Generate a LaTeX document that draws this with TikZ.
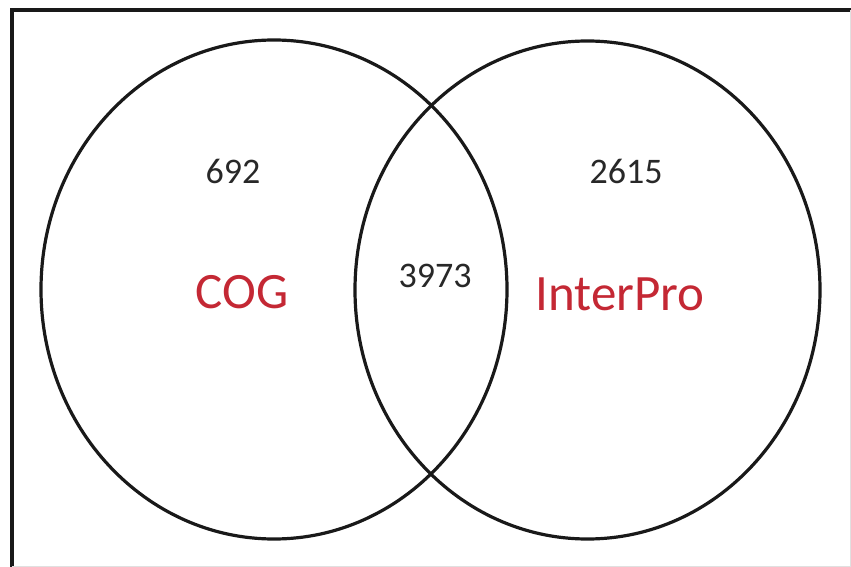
\documentclass[tikz,border=0pt]{standalone}
\usepackage{fontspec}
\setmainfont{Carlito}
\definecolor{labred}{RGB}{196,40,52}
\definecolor{numgray}{RGB}{40,40,40}
\begin{document}
\begin{tikzpicture}[x=1pt,y=-1pt,
  venn/.style={draw=black!90,line width=3.2pt},
  numlbl/.style={inner sep=0pt,anchor=base,text=numgray,font=\fontsize{36}{36}\selectfont},
  setlbl/.style={inner sep=0pt,anchor=base,text=labred,font=\fontsize{51}{51}\selectfont}]
\useasboundingbox (0,0) rectangle (851,567);
\draw[line width=3.4pt,black!90] (12,567) -- (12,10) -- (851,10);
\draw[line width=1pt,black!12] (12,566) -- (850,566) -- (850,10);
\draw[venn] (274,289.5) ellipse [x radius=233,y radius=249.5];
\draw[venn] (587.5,290) ellipse [x radius=232.5,y radius=249];
\node[numlbl] (n692) at (233,183) {692};
\node[numlbl] (n2615) at (626,183) {2615};
\node[numlbl] (n3973) at (435,287) {3973};
\node[setlbl] (cog) at (242,308) {COG};
\node[setlbl] (interpro) at (620,310) {InterPro};
\end{tikzpicture}
\end{document}
